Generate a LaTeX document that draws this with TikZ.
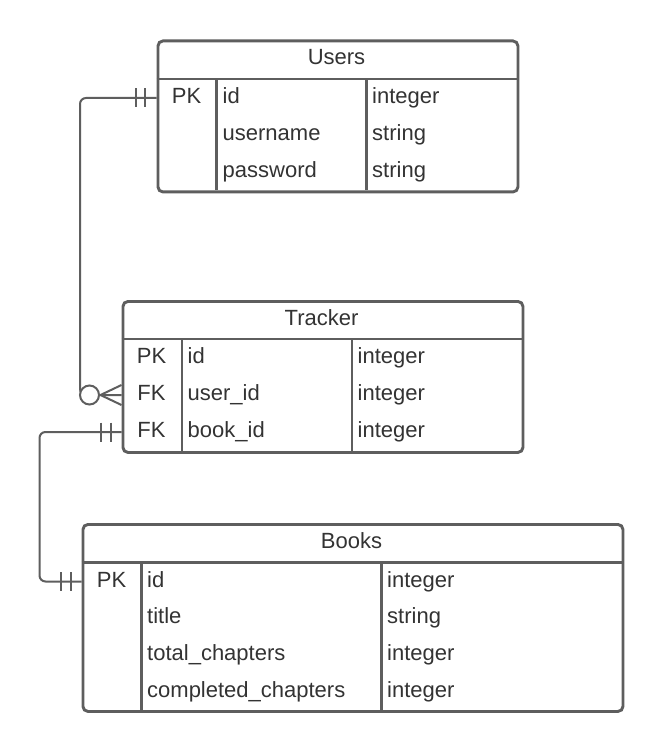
\documentclass[tikz,border=0pt]{standalone}
\usepackage{fontspec}
\setmainfont{Liberation Sans}
\begin{document}
\begin{tikzpicture}[x=1pt,y=-1pt]
\definecolor{lc}{HTML}{5E5E5E}
\definecolor{tc}{HTML}{333333}
\tikzset{
  tbl/.style={draw=lc, line width=2.9pt, rounded corners=5pt, inner sep=0pt, anchor=north west},
  sep/.style={draw=lc, line width=2.9pt},
  conn/.style={draw=lc, line width=2pt, rounded corners=6pt},
  tick/.style={draw=lc, line width=2pt},
  cell/.style={anchor=base west, text=tc, inner sep=0pt, font=\fontsize{22}{26}\selectfont},
  ccell/.style={anchor=base, text=tc, inner sep=0pt, font=\fontsize{22}{26}\selectfont},
}
\useasboundingbox (0,0) rectangle (662,751);
\fill[white] (0,0) rectangle (662,751);

% ---------- Users ----------
\node[tbl, minimum width=360pt, minimum height=151pt] (users) at (156.5,39.5) {};
\draw[sep] (156.5,79) -- (516.5,79);
\draw[sep] (216.5,79) -- (216.5,190.5);
\draw[sep] (366.5,79) -- (366.5,190.5);
\node[ccell] (usersT) at (336.5,65) {Users};
\node[ccell] (uPK) at (186.5,103.5) {PK};
\node[cell] (u1) at (222.5,103.5) {id};
\node[cell] (u2) at (222.5,140.3) {username};
\node[cell] (u3) at (222.5,177.1) {password};
\node[cell] (u1t) at (372,103.5) {integer};
\node[cell] (u2t) at (372,140.3) {string};
\node[cell] (u3t) at (372,177.1) {string};

% ---------- Tracker ----------
\node[tbl, minimum width=400pt, minimum height=151pt] (tracker) at (121.5,300) {};
\draw[sep] (121.5,339) -- (521.5,339);
\draw[sep] (182,339) -- (182,451);
\draw[sep] (352,339) -- (352,451);
\node[ccell] (trackerT) at (321.5,325) {Tracker};
\node[ccell] (tPK) at (151.5,363.5) {PK};
\node[ccell] (tFK1) at (151.5,400.3) {FK};
\node[ccell] (tFK2) at (151.5,437.1) {FK};
\node[cell] (t1) at (187.5,363.5) {id};
\node[cell] (t2) at (187.5,400.3) {user\_id};
\node[cell] (t3) at (187.5,437.1) {book\_id};
\node[cell] (t1t) at (357.5,363.5) {integer};
\node[cell] (t2t) at (357.5,400.3) {integer};
\node[cell] (t3t) at (357.5,437.1) {integer};

% ---------- Books ----------
\node[tbl, minimum width=540pt, minimum height=187pt] (books) at (81.5,523) {};
\draw[sep] (81.5,562.5) -- (621.5,562.5);
\draw[sep] (141.5,562.5) -- (141.5,710);
\draw[sep] (381.5,562.5) -- (381.5,710);
\node[ccell] (booksT) at (351.5,548) {Books};
\node[ccell] (bPK) at (111.5,587) {PK};
\node[cell] (b1) at (147,587) {id};
\node[cell] (b2) at (147,623.8) {title};
\node[cell] (b3) at (147,660.6) {total\_chapters};
\node[cell] (b4) at (147,697.4) {completed\_chapters};
\node[cell] (b1t) at (387,587) {integer};
\node[cell] (b2t) at (387,623.8) {string};
\node[cell] (b3t) at (387,660.6) {integer};
\node[cell] (b4t) at (387,697.4) {integer};

% ---------- connector ends ----------
\coordinate (uId) at (users.west |- 0,98);
\coordinate (tUser) at (tracker.west |- 0,395);
\coordinate (tBook) at (tracker.west |- 0,432);
\coordinate (bId) at (books.west |- 0,581.5);

% Users -- Tracker (one to zero-or-many)
\draw[conn] (uId) -- (80,98) -- (80,395) -- (tUser);
\draw[tick] ([xshift=-12pt]uId) ++(0,-9.5) -- ++(0,19);
\draw[tick] ([xshift=-21pt]uId) ++(0,-9.5) -- ++(0,19);
\draw[tick] ([xshift=-21pt]tUser) -- ([yshift=-10pt]tUser);
\draw[tick] ([xshift=-21pt]tUser) -- ([yshift=10pt]tUser);
\node[circle, draw=lc, line width=2pt, fill=white, minimum size=19pt, inner sep=0pt] (circ) at (89.5,395) {};

% Tracker -- Books (one to one)
\draw[conn] (tBook) -- (39.5,432) -- (39.5,581.5) -- (bId);
\draw[tick] ([xshift=-11pt]tBook) ++(0,-9.5) -- ++(0,19);
\draw[tick] ([xshift=-21pt]tBook) ++(0,-9.5) -- ++(0,19);
\draw[tick] ([xshift=-11pt]bId) ++(0,-9.5) -- ++(0,19);
\draw[tick] ([xshift=-21pt]bId) ++(0,-9.5) -- ++(0,19);
\end{tikzpicture}
\end{document}
